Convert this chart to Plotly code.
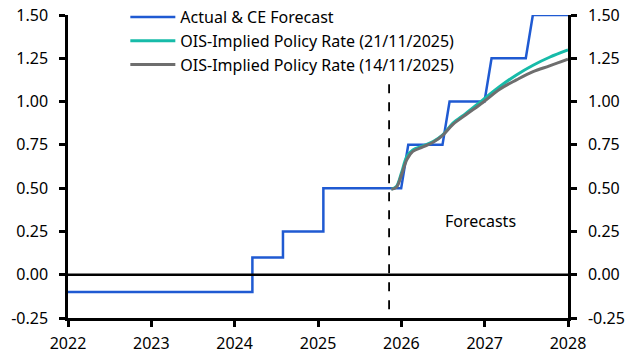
import plotly.graph_objects as go

# Actual & CE Forecast (policy rate, %)
actual_dates = ["2022-01-01", "2024-03-19", "2024-03-19", "2024-07-31", "2024-07-31",
                "2025-01-24", "2025-01-24", "2025-12-31", "2026-01-31", "2026-06-30",
                "2026-07-31", "2026-12-31", "2027-01-31", "2027-06-30", "2027-07-31",
                "2028-01-01"]
actual_vals = [-0.10, -0.10, 0.10, 0.10, 0.25, 0.25, 0.50, 0.50, 0.75, 0.75,
               1.00, 1.00, 1.25, 1.25, 1.50, 1.50]

# OIS-implied policy rate (21/11/2025)
ois21_dates = ["2025-11-18", "2025-12-10", "2026-01-01", "2026-01-25", "2026-02-20",
               "2026-04-05", "2026-05-20", "2026-07-01", "2026-08-15", "2026-10-12",
               "2026-12-24", "2027-03-08", "2027-05-20", "2027-08-01", "2027-10-12",
               "2028-01-01"]
ois21_vals = [0.494, 0.51, 0.587, 0.683, 0.72, 0.744, 0.769, 0.808, 0.875, 0.933,
              1.01, 1.087, 1.154, 1.21, 1.256, 1.298]

# OIS-implied policy rate (14/11/2025)
ois14_dates = ["2025-11-18", "2025-12-10", "2026-01-01", "2026-01-25", "2026-02-20",
               "2026-04-05", "2026-05-20", "2026-07-01", "2026-08-15", "2026-10-12",
               "2026-12-24", "2027-03-08", "2027-05-20", "2027-08-01", "2027-10-12",
               "2028-01-01"]
ois14_vals = [0.494, 0.505, 0.575, 0.665, 0.712, 0.738, 0.765, 0.805, 0.868, 0.925,
              0.995, 1.071, 1.125, 1.173, 1.206, 1.245]

y_ticks = [-0.25, 0.0, 0.25, 0.5, 0.75, 1.0, 1.25, 1.5]
y_tick_text = ["-0.25", "0.00", "0.25", "0.50", "0.75", "1.00", "1.25", "1.50"]
x_ticks = ["2022-01-01", "2023-01-01", "2024-01-01", "2025-01-01", "2026-01-01",
           "2027-01-01", "2028-01-01"]
x_tick_text = ["2022", "2023", "2024", "2025", "2026", "2027", "2028"]

FONT = "Noto Sans"
FS = 16

fig = go.Figure()
fig.add_trace(go.Scatter(x=actual_dates, y=actual_vals, mode="lines",
                         name="Actual & CE Forecast",
                         line=dict(color="#1F5AD2", width=2.5)))
fig.add_trace(go.Scatter(x=ois21_dates, y=ois21_vals, mode="lines",
                         name="OIS-Implied Policy Rate (21/11/2025)",
                         line=dict(color="#17BBA9", width=3, shape="spline")))
fig.add_trace(go.Scatter(x=ois14_dates, y=ois14_vals, mode="lines",
                         name="OIS-Implied Policy Rate (14/11/2025)",
                         line=dict(color="#6E6E6E", width=3, shape="spline")))
# invisible trace for right axis
fig.add_trace(go.Scatter(x=[x_ticks[0]], y=[0], yaxis="y2", mode="lines",
                         showlegend=False, hoverinfo="skip",
                         line=dict(color="rgba(0,0,0,0)")))

fig.add_shape(type="line", x0="2025-11-08", x1="2025-11-08", y0=-0.2, y1=1.15,
              xref="x", yref="y", line=dict(color="black", width=1.8, dash="dash"))
fig.add_shape(type="line", x0="2022-01-01", x1="2028-01-01", y0=0, y1=0,
              xref="x", yref="y", line=dict(color="black", width=2.5))

fig.add_annotation(x="2026-12-15", y=0.31, text="Forecasts", showarrow=False,
                   font=dict(family=FONT, size=FS, color="black"))

axis_common = dict(showgrid=False, zeroline=False, showline=True, linecolor="black",
                   linewidth=2.5, ticks="outside", ticklen=6, tickwidth=2.5,
                   tickcolor="black",
                   tickfont=dict(family=FONT, size=FS, color="black"))

fig.update_layout(
    width=633, height=358,
    margin=dict(l=68, r=65, t=15, b=40, autoexpand=False),
    plot_bgcolor="white", paper_bgcolor="white",
    font=dict(family=FONT, size=FS, color="black"),
    xaxis=dict(type="date", range=["2022-01-01", "2028-01-01"],
               tickvals=x_ticks, ticktext=x_tick_text, ticklabelstandoff=3,
               **axis_common),
    yaxis=dict(range=[-0.25, 1.5], tickvals=y_ticks, ticktext=y_tick_text,
               ticklabelstandoff=8, **axis_common),
    yaxis2=dict(range=[-0.25, 1.5], tickvals=y_ticks, ticktext=y_tick_text,
                overlaying="y", side="right", ticklabelstandoff=8, **axis_common),
    legend=dict(x=0.198, y=1.008, xref="container", yref="container",
                xanchor="left", yanchor="top",
                bgcolor="rgba(0,0,0,0)", font=dict(family=FONT, size=FS),
                itemwidth=45, tracegroupgap=0),
    showlegend=True,
)

fig.write_html("out.html", config={"displayModeBar": False},
               post_script="document.body.style.margin='0';document.body.style.padding='0';")
